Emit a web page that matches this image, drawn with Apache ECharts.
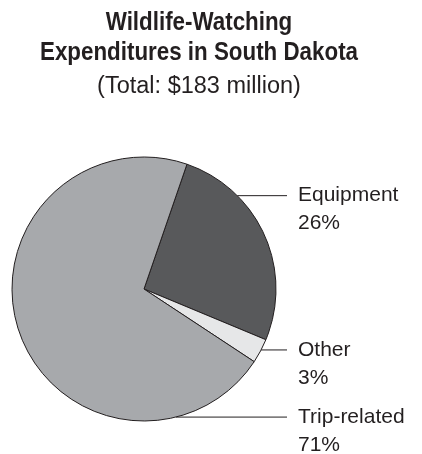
<!DOCTYPE html>
<html>
<head>
<meta charset="utf-8">
<script src="https://cdn.jsdelivr.net/npm/echarts@6/dist/echarts.min.js"></script>
<style>
  html, body { margin: 0; padding: 0; background: #ffffff; }
  #chart { width: 422px; height: 454px; }
</style>
</head>
<body>
<div id="chart"></div>
<script>
// Expenditure shares (percent of the $183 million total)
const categories = ['Equipment', 'Other', 'Trip-related'];
const shares = [26, 3, 71];
const sliceColors = ['#58595b', '#e6e7e8', '#a7a9ac'];

const titleLines = 'Wildlife-Watching\nExpenditures in South Dakota';
const subtitle = '(Total: $183 million)';

// Pie geometry and leader-line anchors (degrees clockwise from 12 o'clock)
const pieCenter = [144, 289];
const pieRadius = 132;
const anchorAngles = [45, 117.5, 166];
const leaderEndX = 287;
const labelX = 298;
const labelLineHeight = 28;
const ink = '#231f20';

const chart = echarts.init(document.getElementById('chart'), null, { renderer: 'canvas' });

chart.setOption({
  backgroundColor: '#ffffff',
  animation: false,
  graphic: [
    {
      // bold heading, horizontally condensed
      type: 'text',
      x: 199,
      y: 8,
      scaleX: 0.86,
      silent: true,
      style: {
        text: titleLines,
        fill: ink,
        fontFamily: '"Liberation Sans", Arial, sans-serif',
        fontWeight: 'bold',
        fontSize: 26,
        lineHeight: 30,
        align: 'center',
        verticalAlign: 'top'
      }
    },
    {
      type: 'text',
      x: 199,
      y: 74,
      silent: true,
      style: {
        text: subtitle,
        fill: ink,
        fontFamily: '"Liberation Sans", Arial, sans-serif',
        fontSize: 23.5,
        lineHeight: 26,
        align: 'center',
        verticalAlign: 'top'
      }
    }
  ],
  series: [{
    type: 'pie',
    center: pieCenter,
    radius: pieRadius,
    startAngle: 71,
    clockwise: true,
    silent: true,
    avoidLabelOverlap: false,
    data: categories.map((name, i) => ({
      name: name,
      value: shares[i],
      itemStyle: { color: sliceColors[i] }
    })),
    itemStyle: { borderColor: ink, borderWidth: 1 },
    label: {
      show: true,
      position: 'outside',
      formatter: '{b}\n{c}%',
      overflow: 'none',
      fontFamily: '"Liberation Sans", Arial, sans-serif',
      fontSize: 21,
      lineHeight: labelLineHeight,
      color: ink
    },
    labelLine: {
      show: true,
      lineStyle: { color: ink, width: 1 }
    },
    labelLayout: function (params) {
      const a = anchorAngles[params.dataIndex] * Math.PI / 180;
      const sx = pieCenter[0] + pieRadius * Math.sin(a);
      const sy = pieCenter[1] - pieRadius * Math.cos(a);
      return {
        x: labelX,
        y: sy - labelLineHeight / 2,
        align: 'left',
        verticalAlign: 'top',
        hideOverlap: false,
        moveOverlap: null,
        labelLinePoints: [[sx, sy], [sx, sy], [leaderEndX, sy]]
      };
    }
  }]
});
</script>
</body>
</html>
